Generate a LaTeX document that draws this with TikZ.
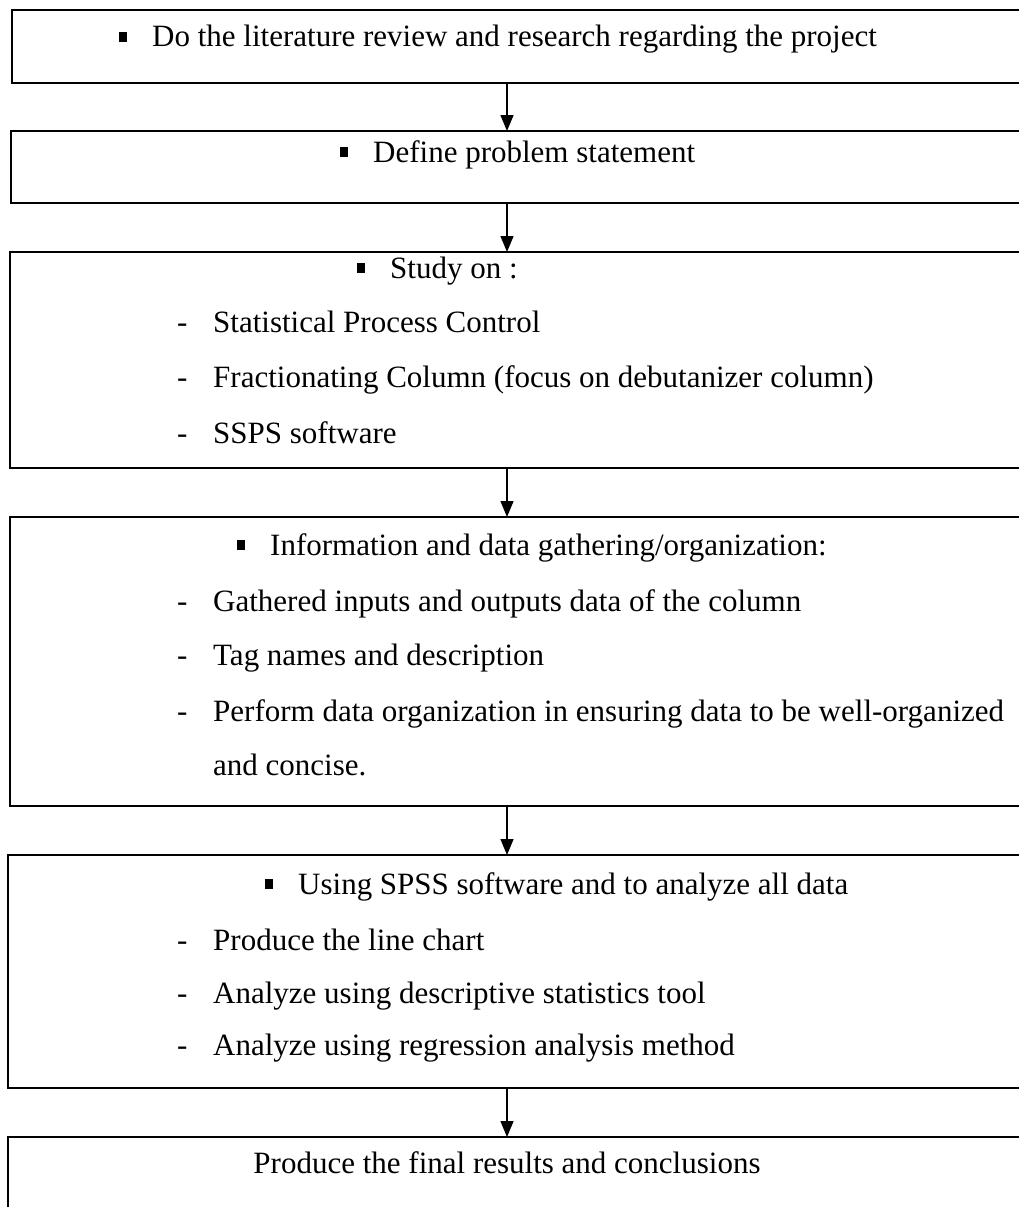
\documentclass[tikz,border=0pt]{standalone}
\usepackage{fontspec}
\setmainfont{Liberation Serif}
\usetikzlibrary{arrows.meta}
\newcommand{\sqbul}{\rule[5pt]{8pt}{10pt}\hspace{25pt}}
\newcommand{\dashitem}{\makebox[36pt][l]{-}}

\begin{document}
\begin{tikzpicture}[x=1pt, y=-1pt,
    stepbox/.style={draw, line width=1.6pt, outer sep=0pt, inner sep=0pt,
      anchor=north west, minimum width=1040pt},
    txt/.style={anchor=base west, inner sep=0pt, font=\fontsize{31}{36}\selectfont},
    arr/.style={line width=1.4pt, -{Triangle[width=13pt,length=16pt]}}]
    \useasboundingbox (0,0) rectangle (1019,1207);
    \clip (0,0) rectangle (1019,1207);

    % Boxes
    \node[stepbox, minimum height=73pt] (b1) at (12,10) {};
    \node[stepbox, minimum height=72pt] (b2) at (11,131) {};
    \node[stepbox, minimum height=216pt] (b3) at (10,252) {};
    \node[stepbox, minimum height=289pt] (b4) at (10,517) {};
    \node[stepbox, minimum height=233pt] (b5) at (8,855) {};
    \node[stepbox, minimum height=120pt] (b6) at (8,1137) {};

    % Arrows
    \coordinate (axis) at (507,0);
    \foreach \a/\b in {b1/b2, b2/b3, b3/b4, b4/b5, b5/b6} {
        \draw[arr] (\a.south -| axis) -- (\b.north -| axis);
    }

    % Literature review
    \node[txt] (h1) at (119,47) {\sqbul Do the literature review and research regarding the project};

    % Problem statement
    \node[txt] (h2) at (340,162) {\sqbul Define problem statement};

    % Study
    \node[txt] (h3) at (357,278) {\sqbul Study on :};
    \foreach \y/\t [count=\i] in {332/Statistical Process Control,
        387/{Fractionating Column (focus on debutanizer column)},
        443/SSPS software} {
        \node[txt] (s\i) at (177,\y) {\dashitem\t};
    }

    % Data gathering
    \node[txt] (h4) at (237,555) {\sqbul Information and data gathering/organization:};
    \foreach \y/\t [count=\i] in {611/Gathered inputs and outputs data of the column,
        665/Tag names and description,
        721/Perform data organization in ensuring data to be well-organized} {
        \node[txt] (d\i) at (177,\y) {\dashitem\t};
    }
    \node[txt] (d4) at (213,775) {and concise.};

    % SPSS analysis
    \node[txt] (h5) at (265,894) {\sqbul Using SPSS software and to analyze all data};
    \foreach \y/\t [count=\i] in {950/Produce the line chart,
        1003/Analyze using descriptive statistics tool,
        1055/Analyze using regression analysis method} {
        \node[txt] (a\i) at (177,\y) {\dashitem\t};
    }

    % Results
    \node[txt, anchor=base] (h6) at (507,1173) {Produce the final results and conclusions};
\end{tikzpicture}
\end{document}
